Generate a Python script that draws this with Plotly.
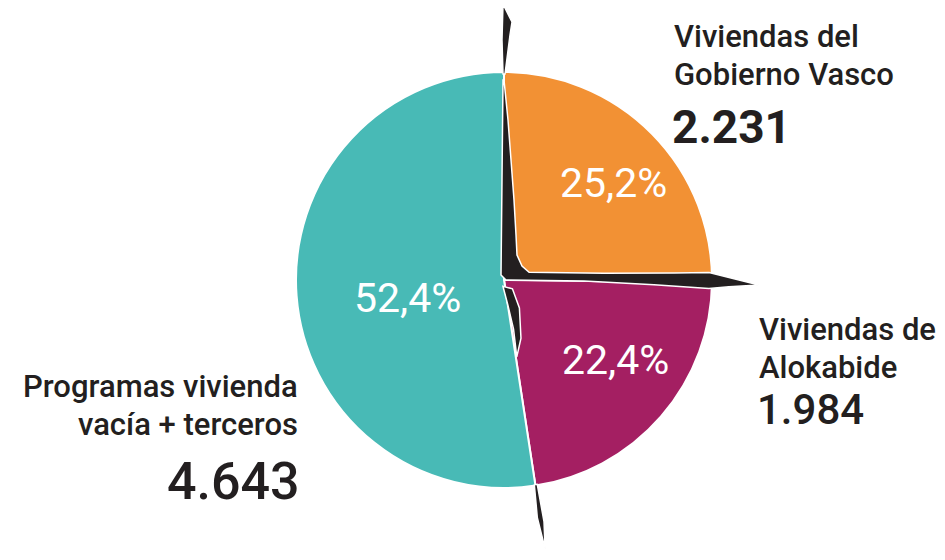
import math
import plotly.graph_objects as go

# ---- data ----
categories = ["Viviendas del Gobierno Vasco", "Viviendas de Alokabide",
              "Programas vivienda vacía + terceros"]
values = [2231, 1984, 4643]
percent_labels = ["25,2%", "22,4%", "52,4%"]
value_labels = ["2.231", "1.984", "4.643"]
name_lines = [["Viviendas del", "Gobierno Vasco"],
              ["Viviendas de", "Alokabide"],
              ["Programas vivienda", "vacía + terceros"]]
colors = ["#F29134", "#A41F62", "#48BAB6"]

# ---- geometry / style ----
PAGE_OFF = 8            # default body margin of the html page
W, H = 945 - PAGE_OFF, 560 - 2 * PAGE_OFF
CX, CY, R = 504, 280, 208   # in window pixels
DARK = "#231F20"
FONT = "Roboto"

total = sum(values)
bounds = [0.0]
for v in values:
    bounds.append(bounds[-1] + 360.0 * v / total)
mids = [(bounds[i] + bounds[i + 1]) / 2 for i in range(len(values))]


def polar(theta, r, off=0.0):
    t = math.radians(theta)
    x = CX + r * math.sin(t) + off * math.cos(t)
    y = CY - r * math.cos(t) + off * math.sin(t)
    return x, y


def to_paper(x, y):
    return (x - PAGE_OFF) / W, 1 - (y - PAGE_OFF) / H


def path_from(points):
    pts = [to_paper(*polar(bounds[b], r, o)) for b, r, o in points]
    return "M " + " L ".join(f"{x:.5f},{y:.5f}" for x, y in pts) + " Z"


x0, y1 = to_paper(CX - R, CY - R)
x1, y0 = to_paper(CX + R, CY + R)
fig = go.Figure(go.Pie(
    labels=categories, values=values, sort=False, direction="clockwise",
    rotation=0, textinfo="none", hoverinfo="label+value+percent",
    marker=dict(colors=colors, line=dict(color="white", width=2)),
    domain=dict(x=[x0, x1], y=[y0, y1]),
))

# decorative cracks along slice boundaries
cracks = [
    # top, outside
    [(0, 206, -1), (0, 240, -2), (0, 276, -1), (0, 258, 8), (0, 245, 6), (0, 206, 1)],
    # L-shaped crack inside (left + bottom of first slice)
    [(0, 200, 0), (0, 160, 4), (0, 120, 7), (0, 80, 10), (0, 45, 12), (0, 25, 13),
     (0, 14, 18), (1, 25, -8), (1, 100, -8), (1, 170, -9), (1, 205, -10), (1, 230, -4),
     (1, 255, 2), (1, 225, 4), (1, 205, 6), (1, 150, 3), (1, 80, 0), (1, 2, 0),
     (0, 5, -3), (0, 100, -2), (0, 200, -1)],
    # wedge between second and third slice
    [(2, 6, 2), (2, 25, 0), (2, 50, -2), (2, 78, -1), (2, 60, -8), (2, 30, -11), (2, 10, -7)],
    # bottom, outside
    [(2, 207, 1), (2, 240, 3), (2, 272, 0), (2, 245, -3), (2, 207, -2)],
]
for c in cracks:
    fig.add_shape(type="path", xref="paper", yref="paper", path=path_from(c),
                  fillcolor=DARK, line=dict(color="white", width=1.5), layer="above")

# percentage labels inside slices
pct_angle_offset = [3, -5.5, -6]
pct_radius = [0.705, 0.66, 0.47]
for i, txt in enumerate(percent_labels):
    x, y = polar(mids[i] + pct_angle_offset[i], pct_radius[i] * R)
    px, py = to_paper(x, y)
    fig.add_annotation(x=px, y=py, xref="paper", yref="paper", text=txt,
                       showarrow=False, xanchor="center", yanchor="middle",
                       font=dict(family=FONT, size=41, color="white"))

# outside category labels (x, first-line centre y, anchor)
label_pos = [(672, 36, "left"), (757, 329, "left"), (300, 386, "right")]
value_pos = [(670, 127, 46, 700), (755, 409, 42, 500), (302, 481, 52, 500)]
for i in range(len(categories)):
    lx, ly, anc = label_pos[i]
    for j, line in enumerate(name_lines[i]):
        px, py = to_paper(lx, ly + 38 * j)
        fig.add_annotation(x=px, y=py, xref="paper", yref="paper", text=line,
                           showarrow=False, xanchor=anc, yanchor="middle",
                           font=dict(family=FONT, size=31, color=DARK, weight=500))
    vx, vy, vs, vw = value_pos[i]
    px, py = to_paper(vx, vy)
    fig.add_annotation(x=px, y=py, xref="paper", yref="paper", text=value_labels[i],
                       showarrow=False, xanchor=anc, yanchor="middle",
                       font=dict(family=FONT, size=vs, color=DARK, weight=vw))

fig.update_layout(width=W, height=H, margin=dict(l=0, r=0, t=0, b=0),
                  showlegend=False, paper_bgcolor="white", plot_bgcolor="white")
fig.write_html("out.html")
